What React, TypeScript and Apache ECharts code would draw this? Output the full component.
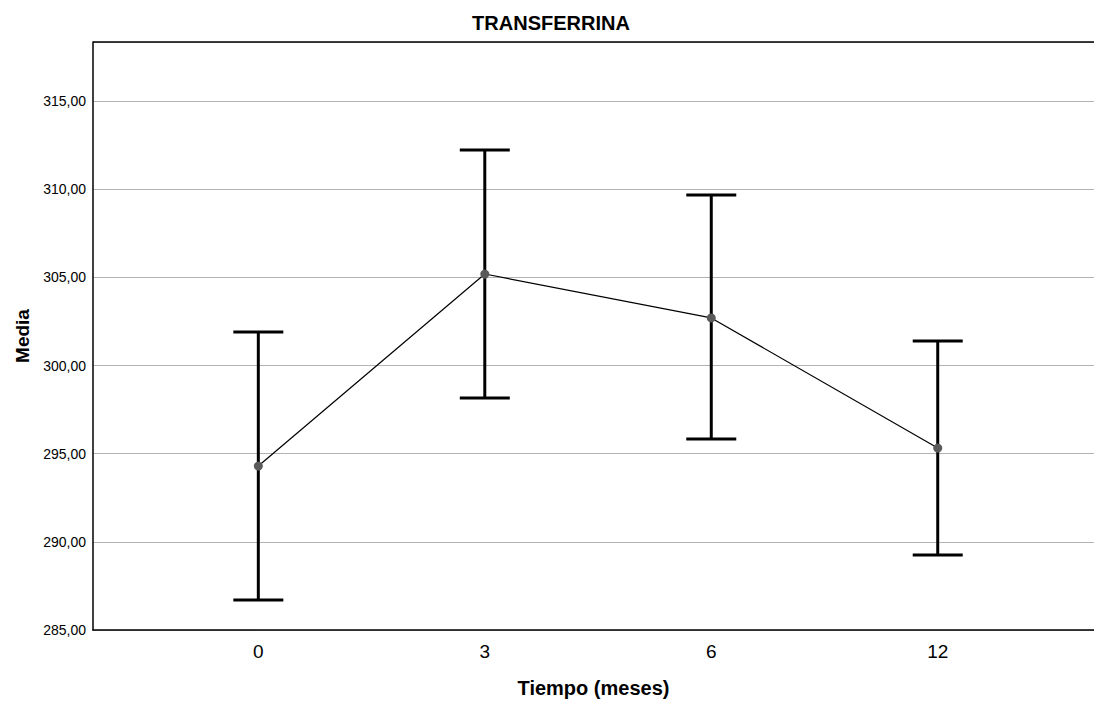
import React, { useEffect, useRef } from "react";
import * as echarts from "echarts";

const categories = ["0", "3", "6", "12"];
const means = [294.3, 305.19, 302.7, 295.32];
const upper = [301.9, 312.23, 309.67, 301.39];
const lower = [286.7, 298.16, 295.83, 289.25];

const fmt = (v: number) => v.toFixed(2).replace(".", ",");

export default function App() {
  const ref = useRef<HTMLDivElement>(null);
  useEffect(() => {
    document.body.style.margin = "0";
    const chart = echarts.init(ref.current!, null, { renderer: "svg" });
    const font = "Arial, 'Liberation Sans', sans-serif";
    chart.setOption({
      animation: false,
      backgroundColor: "#ffffff",
      textStyle: { fontFamily: font },
      title: {
        text: "TRANSFERRINA",
        left: 546,
        textAlign: "center",
        top: 8,
        textStyle: { fontSize: 20, fontWeight: "bold", color: "#000", fontFamily: font },
      },
      grid: { left: 93, top: 42, right: 0, bottom: 73, show: false },
      graphic: [
        {
          type: "line",
          shape: { x1: 93, y1: 42, x2: 1094, y2: 42 },
          style: { stroke: "#000", lineWidth: 1.5 },
          z: 10,
        },
      ],
      xAxis: {
        type: "value",
        min: -0.73,
        max: 3.69,
        splitLine: { show: false },
        minorSplitLine: { show: false },
        axisLine: { show: true, onZero: false, lineStyle: { color: "#000", width: 1.5 } },
        axisTick: { show: false },
        axisLabel: {
          customValues: [0, 1, 2, 3],
          formatter: (v: number) => categories[Math.round(v)] ?? "",
          fontSize: 19,
          color: "#000",
          margin: 12,
          fontFamily: font,
        },
        name: "Tiempo (meses)",
        nameLocation: "middle",
        nameGap: 48,
        nameTextStyle: { fontSize: 20, fontWeight: "bold", color: "#000", fontFamily: font },
      },
      yAxis: {
        type: "value",
        position: "left",
        min: 285,
        max: 318.35,
        interval: 5,
        axisLine: { show: true, onZero: false, lineStyle: { color: "#000", width: 1.5 } },
        axisTick: { show: false },
        splitLine: { show: true, lineStyle: { color: "#b3b3b3", width: 1.2 } },
        axisLabel: {
          formatter: (v: number) => (v > 315.5 ? "" : fmt(v)),
          fontSize: 14,
          color: "#000",
          margin: 7,
          fontFamily: font,
        },
        name: "Media",
        nameLocation: "middle",
        nameGap: 61,
        nameTextStyle: { fontSize: 19, fontWeight: "bold", color: "#000", fontFamily: font },
      },
      series: [
        {
          type: "custom",
          renderItem: (params: any, api: any) => {
            const x = api.value(0);
            const top = api.coord([x, api.value(1)]);
            const bot = api.coord([x, api.value(2)]);
            const hw = 25;
            const style = { stroke: "#000", lineWidth: 3, fill: "none" };
            return {
              type: "group",
              children: [
                { type: "line", shape: { x1: top[0], y1: top[1], x2: bot[0], y2: bot[1] }, style },
                { type: "line", shape: { x1: top[0] - hw, y1: top[1], x2: top[0] + hw, y2: top[1] }, style },
                { type: "line", shape: { x1: bot[0] - hw, y1: bot[1], x2: bot[0] + hw, y2: bot[1] }, style },
              ],
            };
          },
          data: categories.map((_, i) => [i, upper[i], lower[i]]),
          z: 2,
        },
        {
          type: "line",
          data: categories.map((_, i) => [i, means[i]]),
          symbol: "circle",
          symbolSize: 9,
          itemStyle: { color: "#5a5a5a" },
          lineStyle: { color: "#000", width: 1.2 },
          z: 3,
        },
      ],
    });
    return () => chart.dispose();
  }, []);
  return <div ref={ref} style={{ position: "absolute", left: 0, top: 0, width: 1094, height: 703 }} />;
}
